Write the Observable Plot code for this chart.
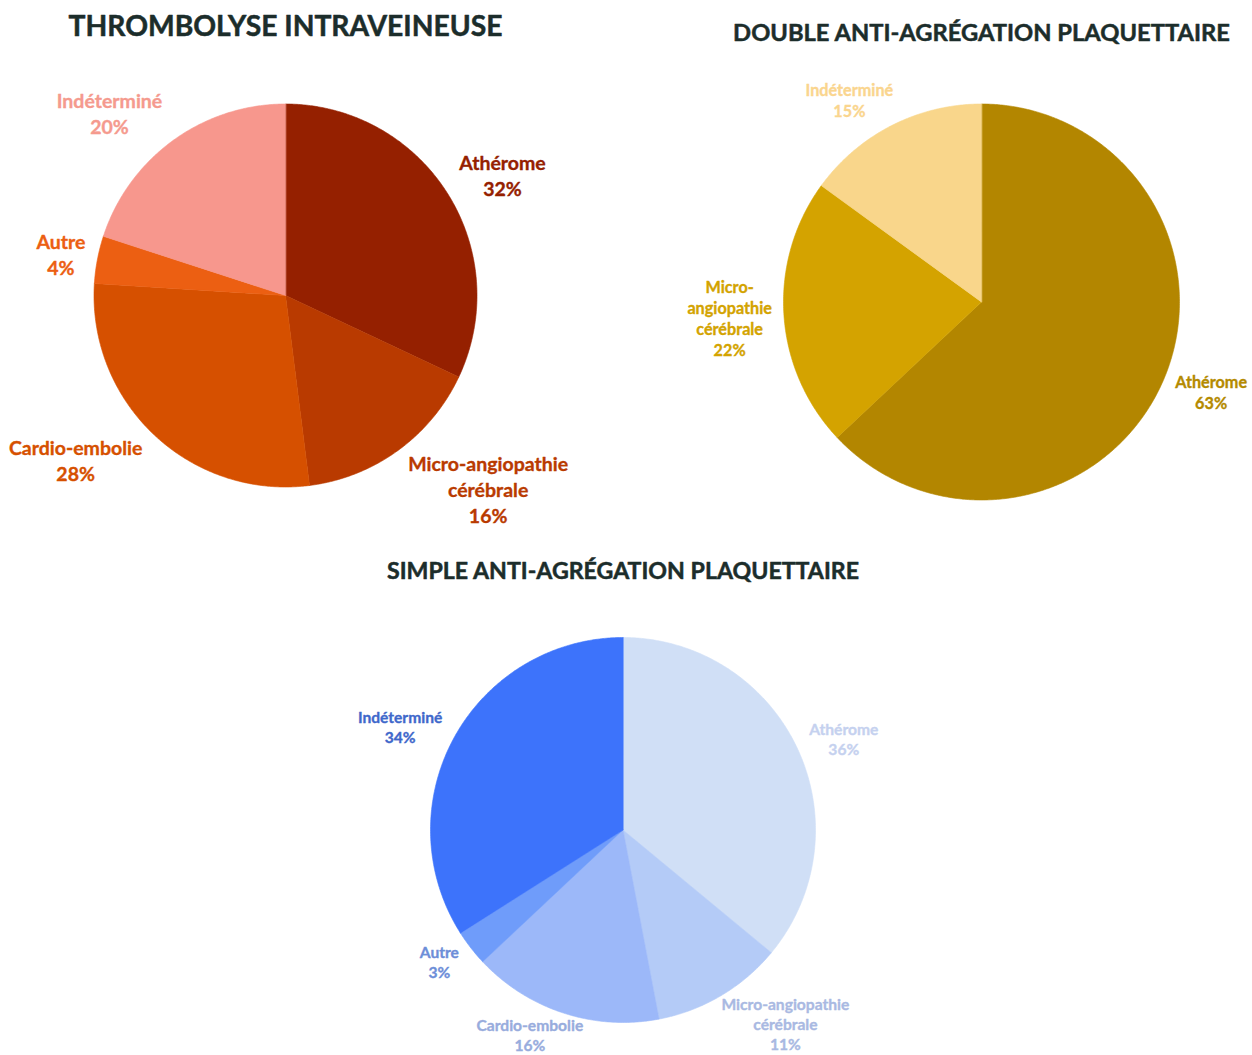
<!DOCTYPE html>
<html><head><meta charset="utf-8">
<script src="https://cdn.jsdelivr.net/npm/d3@7"></script>
<script src="https://cdn.jsdelivr.net/npm/@observablehq/plot@0.6"></script>
<style>body{margin:0;background:#fff} #chart{width:1252px;height:1055px}</style>
</head><body><div id="chart"></div>
<script>
// ---- data ----
const titleThrombolyse = "THROMBOLYSE INTRAVEINEUSE";
const categoriesThrombolyse = ["Athérome", "Micro-angiopathie\ncérébrale", "Cardio-embolie", "Autre", "Indéterminé"];
const valuesThrombolyse = [32, 16, 28, 4, 20];

const titleDouble = "DOUBLE ANTI-AGRÉGATION PLAQUETTAIRE";
const categoriesDouble = ["Athérome", "Micro-\nangiopathie\ncérébrale", "Indéterminé"];
const valuesDouble = [63, 22, 15];

const titleSimple = "SIMPLE ANTI-AGRÉGATION PLAQUETTAIRE";
const categoriesSimple = ["Athérome", "Micro-angiopathie\ncérébrale", "Cardio-embolie", "Autre", "Indéterminé"];
const valuesSimple = [36, 11, 16, 3, 34];

// ---- styles / layout ----
const FONT = "Lato, 'Open Sans', sans-serif";
const charts = [
  {title: titleThrombolyse, cats: categoriesThrombolyse, vals: valuesThrombolyse,
   cx: 285, cy: 295, r: 191.5, titleY: 26, titleW: 434, labelSize: 19.5, lh: 1.33, gy: 8,
   slice: ["#952000", "#b93a00", "#d65000", "#ec5f12", "#f7978d"],
   label: ["#952000", "#b93a00", "#d65000", "#ec5f12", "#f59a8e"]},
  {title: titleDouble, cats: categoriesDouble, vals: valuesDouble,
   cx: 981, cy: 301.5, r: 198, titleY: 33, titleW: 498, labelSize: 16.2, lh: 1.29, gy: 8,
   slice: ["#b38600", "#d4a300", "#f9d68b"],
   label: ["#b48a00", "#d3a300", "#fad58e"]},
  {title: titleSimple, cats: categoriesSimple, vals: valuesSimple,
   cx: 622.5, cy: 829.5, r: 192.5, titleY: 571, titleW: 473, labelSize: 15.6, lh: 1.3, gy: 2,
   slice: ["#d0dff6", "#b4cbf7", "#9cb8f9", "#6f9cfa", "#3d73fb"],
   label: ["#c5d1ef", "#a9b9e2", "#98acdd", "#6d8ed8", "#3f68cb"]}
];
const GX = 12;

const ctx = document.createElement("canvas").getContext("2d");
function measure(text, size) {
  ctx.font = `bold ${size}px ${FONT}`;
  return d3.max(text.split("\n"), s => ctx.measureText(s).width);
}

const marks = [];
const titleRows = [];
charts.forEach((c, ci) => {
  const arcs = d3.pie().sort(null).value(d => d)(c.vals);
  const labelRows = [];
  arcs.forEach((a, i) => {
    const pts = [{x: c.cx, y: c.cy}];
    const n = Math.max(2, Math.ceil((a.endAngle - a.startAngle) / (Math.PI / 360)));
    for (let k = 0; k <= n; k++) {
      const t = a.startAngle + (a.endAngle - a.startAngle) * k / n;
      pts.push({x: c.cx + c.r * Math.sin(t), y: c.cy - c.r * Math.cos(t)});
    }
    marks.push(Plot.line(pts, {x: "x", y: "y", fill: c.slice[i], stroke: c.slice[i], strokeWidth: 0.6, curve: "linear-closed"}));
    const text = `${c.cats[i]}\n${c.vals[i]}%`;
    const m = (a.startAngle + a.endAngle) / 2;
    const ux = Math.sin(m), uy = -Math.cos(m);
    const ex = c.cx + c.r * ux, ey = c.cy + c.r * uy;
    const w = measure(text, c.labelSize);
    const h = text.split("\n").length * c.labelSize * c.lh;
    const fx = Math.sign(ux) * Math.min(1, Math.abs(ux) / 0.6);
    labelRows.push({
      x: ex + fx * (w / 2 + GX),
      y: ey + uy * (h / 2 + c.gy),
      text, color: c.label[i]
    });
  });
  marks.push(Plot.text(labelRows, {x: "x", y: "y", text: "text", fill: "color", stroke: "color", strokeWidth: 0.35,
    fontSize: c.labelSize, fontWeight: "bold", fontFamily: FONT, lineHeight: c.lh}));
  const size = 30 * c.titleW / measure(c.title, 30);
  titleRows.push({x: c.cx, y: c.titleY, text: c.title, size});
});
charts.forEach((c, i) => {
  marks.push(Plot.text([titleRows[i]], {x: "x", y: "y", text: "text", fill: "#1c2d2b", stroke: "#1c2d2b", strokeWidth: 0.5,
    fontSize: titleRows[i].size, fontWeight: "bold", fontFamily: FONT}));
});

const chart = Plot.plot({
  width: 1252, height: 1055, margin: 0,
  style: {background: "#fff", overflow: "visible"},
  x: {domain: [0, 1252], range: [0, 1252], axis: null},
  y: {domain: [0, 1055], range: [0, 1055], axis: null},
  color: {type: "identity"},
  marks
});
document.getElementById("chart").append(chart);
</script>
</body></html>
